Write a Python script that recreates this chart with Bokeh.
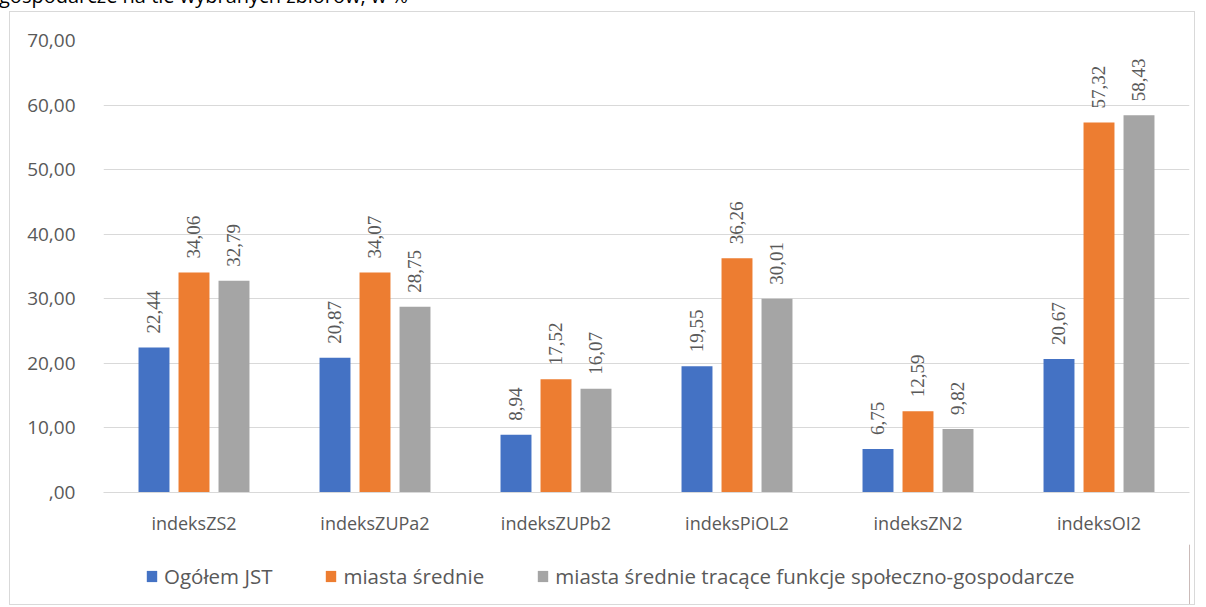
import math
from bokeh.plotting import figure
from bokeh.layouts import column
from bokeh.models import (ColumnDataSource, FactorRange, Range1d, LabelSet, Legend,
                          LegendItem, FixedTicker, CustomJSTickFormatter, Div)
from bokeh.transform import dodge
from bokeh.embed import file_html
from bokeh.resources import INLINE

title_text = "gospodarcze na tle wybranych zbiorów, w %"
categories = ["indeksZS2", "indeksZUPa2", "indeksZUPb2", "indeksPiOL2", "indeksZN2", "indeksOI2"]
ogolem_jst = [22.44, 20.87, 8.94, 19.55, 6.75, 20.67]
miasta_srednie = [34.06, 34.07, 17.52, 36.26, 12.59, 57.32]
miasta_tracace = [32.79, 28.75, 16.07, 30.01, 9.82, 58.43]
series_names = ["Ogółem JST", "miasta średnie",
                "miasta średnie tracące funkcje społeczno-gospodarcze"]
y_ticks = [0, 10, 20, 30, 40, 50, 60, 70]

colors = ["#4472C4", "#ED7D31", "#A5A5A5"]
text_color = "#595959"
FONT = "Open Sans"


def fmt(v):
    return f"{v:.2f}".replace(".", ",")


src = ColumnDataSource(dict(
    cat=categories,
    s0=ogolem_jst, s1=miasta_srednie, s2=miasta_tracace,
    t0=[fmt(v) for v in ogolem_jst],
    t1=[fmt(v) for v in miasta_srednie],
    t2=[fmt(v) for v in miasta_tracace],
))

p = figure(width=1184, height=532, x_range=FactorRange(*categories, range_padding=0),
           y_range=Range1d(0, 70), output_backend="svg", toolbar_location=None,
           min_border_left=93, min_border_right=5, min_border_top=28, min_border_bottom=52)
p.outline_line_color = None
p.background_fill_color = "white"
p.border_fill_color = "white"

offsets = [-0.221, 0.0, 0.221]
for i, (off, col) in enumerate(zip(offsets, colors)):
    p.vbar(x=dodge("cat", off, range=p.x_range), top=f"s{i}", width=0.171,
           source=src, fill_color=col, line_color=None)
    lbl = LabelSet(x=dodge("cat", off, range=p.x_range), y=f"s{i}", text=f"t{i}",
                   source=src, angle=math.pi / 2, text_align="left", text_baseline="middle",
                   y_offset=14, text_font=FONT, text_font_size="19px", text_color=text_color)
    p.add_layout(lbl)

p.xgrid.grid_line_color = None
p.ygrid.grid_line_color = "#d9d9d9"
p.ygrid.grid_line_width = 1

p.yaxis.ticker = FixedTicker(ticks=y_ticks)
p.yaxis.formatter = CustomJSTickFormatter(code="""
    const s = tick.toFixed(2).replace('.', ',');
    return s.startsWith('0,') ? s.substring(1) : s;
""")
p.yaxis.axis_line_color = None
p.yaxis.major_tick_line_color = None
p.yaxis.minor_tick_line_color = None
p.yaxis.major_label_standoff = 22
p.yaxis.major_label_text_font = FONT
p.yaxis.major_label_text_font_size = "19px"
p.yaxis.major_label_text_color = text_color

p.xaxis.axis_line_color = "#d9d9d9"
p.xaxis.major_tick_line_color = None
p.xaxis.minor_tick_line_color = None
p.xaxis.major_label_standoff = 12
p.xaxis.major_label_text_font = FONT
p.xaxis.major_label_text_font_size = "18px"
p.xaxis.major_label_text_color = text_color

# legend strip below the chart
lf = figure(width=1184, height=60, x_range=Range1d(0, 1), y_range=Range1d(0, 1),
            output_backend="svg", toolbar_location=None,
            x_axis_location=None, y_axis_location=None,
            min_border_left=93, min_border_right=5,
            min_border_top=0, min_border_bottom=0)
lf.outline_line_color = None
lf.grid.visible = False
lf.background_fill_color = "white"
lf.border_fill_color = "white"
items = []
for col, name in zip(colors, series_names):
    r = lf.vbar(x=[10], top=[10], width=0.1, fill_color=col, line_color=None)
    items.append(LegendItem(label=name, renderers=[r]))
legend = Legend(items=items, orientation="horizontal", location=(42, 14),
                label_text_font=FONT, label_text_font_size="20.5px",
                label_text_color=text_color, glyph_width=13, glyph_height=14,
                label_standoff=6, spacing=52, padding=0, margin=0,
                border_line_color=None, background_fill_alpha=0)
lf.add_layout(legend)

head = Div(text=f'<div style="position:relative; top:-18px; left:-1px; white-space:nowrap; '
                f'font-family:\'Open Sans\'; font-size:20px; color:#000;">{title_text}</div>',
           width=600, height=11, margin=0, styles={"overflow": "hidden"})

chart = column(p, lf, spacing=0, width=1186, height=594,
               styles={"border": "1px solid #d9d9d9", "margin-left": "9px",
                       "box-sizing": "border-box", "background-color": "white"})
page = column(head, chart, spacing=0)

open("out.html", "w").write(file_html(page, INLINE))
